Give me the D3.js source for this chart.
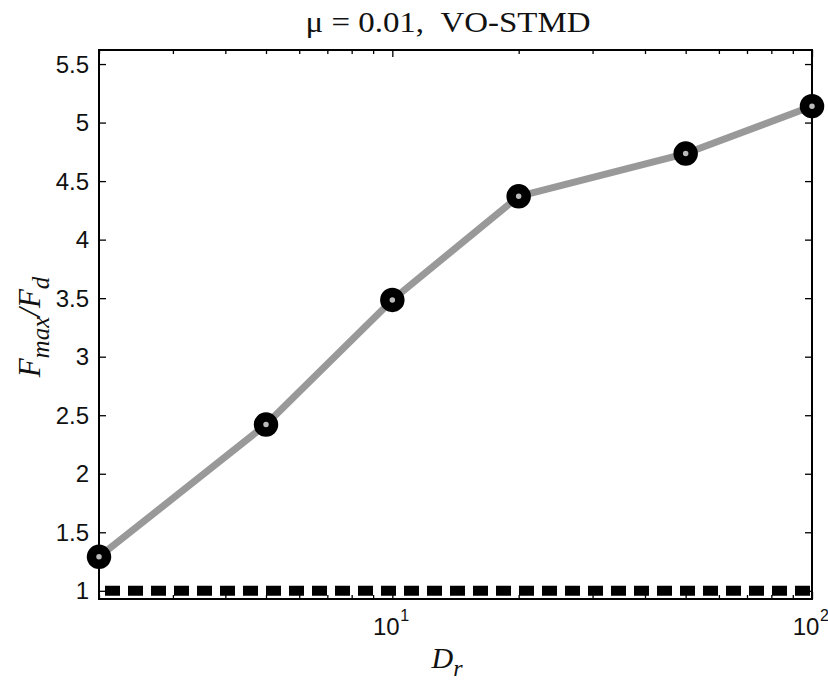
<!DOCTYPE html>
<html><head><meta charset="utf-8">
<script src="https://cdn.jsdelivr.net/npm/d3@7"></script>
<style>body{margin:0;background:#fff}svg{display:block}</style>
</head><body>
<svg id="c" width="828" height="683"></svg>
<script>
const drValues = [2, 5, 10, 20, 50, 100];
const ratioValues = [1.29, 2.42, 3.485, 4.37, 4.735, 5.14];
const baselineX = [2, 100];
const baselineY = [1, 1];
const yTicks = [1, 1.5, 2, 2.5, 3, 3.5, 4, 4.5, 5, 5.5];
const yTickLabels = ["1", "1.5", "2", "2.5", "3", "3.5", "4", "4.5", "5", "5.5"];
const xMajorTicks = [10, 100];
const xMajorLabels = ["1", "2"];
const xMinorTicks = [2, 3, 4, 5, 6, 7, 8, 9, 20, 30, 40, 50, 60, 70, 80, 90];

const svg = d3.select("#c");
const L = 99, R = 812, T = 50, B = 599;
const x = d3.scaleLog().domain([2, 100]).range([L, R]);
const y = d3.scaleLinear().domain([0.93, 5.62]).range([B, T]);

// baseline dashed
svg.append("line")
  .attr("x1", x(baselineX[0]) + 6).attr("x2", x(baselineX[1]))
  .attr("y1", y(baselineY[0])).attr("y2", y(baselineY[1]))
  .attr("stroke", "#000").attr("stroke-width", 10)
  .attr("stroke-dasharray", "15,8");

// axes
const axB = d3.axisBottom(x).tickValues(xMajorTicks).tickSize(-7).tickFormat("");
const axT = d3.axisTop(x).tickValues(xMajorTicks).tickSize(-7).tickFormat("");
const axBm = d3.axisBottom(x).tickValues(xMinorTicks).tickSize(-4).tickFormat("");
const axTm = d3.axisTop(x).tickValues(xMinorTicks).tickSize(-4).tickFormat("");
const axL = d3.axisLeft(y).tickValues(yTicks).tickSize(-7).tickFormat("");
const axR = d3.axisRight(y).tickValues(yTicks).tickSize(-7).tickFormat("");
function style(g){ g.selectAll(".domain").remove(); g.selectAll("line").attr("stroke","#000").attr("stroke-width",1.3); }
svg.append("g").attr("transform",`translate(0,${B})`).call(axB).call(style);
svg.append("g").attr("transform",`translate(0,${B})`).call(axBm).call(style);
svg.append("g").attr("transform",`translate(0,${T})`).call(axT).call(style);
svg.append("g").attr("transform",`translate(0,${T})`).call(axTm).call(style);
svg.append("g").attr("transform",`translate(${L},0)`).call(axL).call(style);
svg.append("g").attr("transform",`translate(${R},0)`).call(axR).call(style);

svg.append("rect").attr("x",L).attr("y",T).attr("width",R-L).attr("height",B-T)
  .attr("fill","none").attr("stroke","#000").attr("stroke-width",2);

// y tick labels
svg.append("g").selectAll("text").data(yTicks).join("text")
  .attr("x", L - 10).attr("y", d => y(d)).attr("dy","0.36em")
  .attr("text-anchor","end").attr("font-family","Liberation Sans, Arial, sans-serif")
  .attr("font-size", 24).attr("fill","#111")
  .text((d,i) => yTickLabels[i]);

// x tick labels 10^n
const xl = svg.append("g").selectAll("g").data(xMajorTicks).join("g")
  .attr("transform", d => `translate(${x(d)},${B+36})`);
xl.append("text").attr("text-anchor","middle").attr("x",-6)
  .attr("font-family","Liberation Sans, Arial, sans-serif").attr("font-size",24).attr("fill","#111")
  .text("10");
xl.append("text").attr("x",8).attr("y",-14)
  .attr("font-family","Liberation Sans, Arial, sans-serif").attr("font-size",16).attr("fill","#111")
  .text((d,i) => xMajorLabels[i]);

// data line
const pts = drValues.map((d,i) => [d, ratioValues[i]]);
svg.append("path").datum(pts)
  .attr("d", d3.line().x(d => x(d[0])).y(d => y(d[1])))
  .attr("fill","none").attr("stroke","#999").attr("stroke-width",7).attr("stroke-linejoin","round");

svg.append("g").selectAll("circle").data(pts).join("circle")
  .attr("cx", d => x(d[0])).attr("cy", d => y(d[1])).attr("r", 7.5)
  .attr("fill","#bbb").attr("stroke","#000").attr("stroke-width",9.5);

// title
svg.append("text").attr("x", 448).attr("y", 32).attr("text-anchor","middle")
  .attr("font-family","Liberation Serif, Times New Roman, serif").attr("font-size",30).attr("fill","#111")
  .attr("textLength", 285).attr("lengthAdjust","spacingAndGlyphs")
  .text("μ = 0.01,\u00a0\u00a0VO-STMD");

// x label
const xlab = svg.append("text").attr("x", 447).attr("y", 668).attr("text-anchor","middle")
  .attr("font-family","Liberation Serif, Times New Roman, serif").attr("font-style","italic")
  .attr("font-size",30).attr("fill","#111");
xlab.append("tspan").text("D");
xlab.append("tspan").attr("font-size",24).attr("dy",8).text("r");

// y label
const ylab = svg.append("text").attr("transform","translate(40,327) rotate(-90)").attr("text-anchor","middle")
  .attr("font-family","Liberation Serif, Times New Roman, serif").attr("font-style","italic")
  .attr("font-size",31).attr("fill","#111");
ylab.append("tspan").text("F");
ylab.append("tspan").attr("font-size",25).attr("dy",9).text("max");
ylab.append("tspan").attr("dy",-9).text("/F");
ylab.append("tspan").attr("font-size",25).attr("dy",9).text("d");
</script>
</body></html>
